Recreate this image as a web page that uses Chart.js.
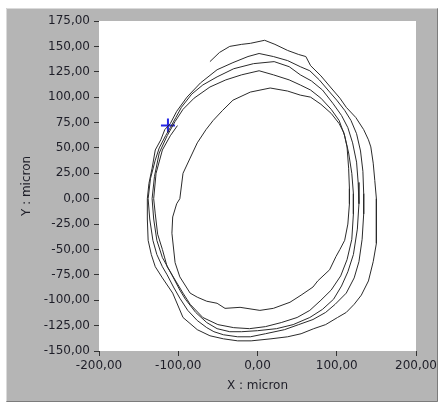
<!DOCTYPE html>
<html>
<head>
<meta charset="utf-8">
<script src="https://cdn.jsdelivr.net/npm/chart.js@4/dist/chart.umd.min.js"></script>
<style>
  html, body { margin: 0; padding: 0; background: #ffffff; }
  #wrap { width: 442px; height: 407px; }
</style>
</head>
<body>
<div id="wrap"><canvas id="xyGraph" width="442" height="407"></canvas></div>
<script>
// outer spiral trace (micron)
const spiralX = [
  // loop 1
  -60, -48, -35, -20, -9, 9, 22, 38, 52, 61, 67, 80, 93, 104, 112, 124, 134, 140, 143, 146, 148, 150, 150, 150, 146, 140, 131, 122, 112, 101, 86, 71, 55, 38, 17, -8, -25, -43, -60, -76, -94, -107, -120, -129, -134, -138, -139, -139, -137, -133, -129, -122, -117, -110,
  // loop 2
  -102, -89, -72, -51, -31, -12, 2, 20, 38, 54, 66, 78, 90, 100, 110, 118, 125, 130, 133, 134, 134, 132, 128, 122, 112, 98, 86, 70, 52, 34, 10, -9, -25, -43, -55, -64, -76, -88, -98, -106, -114, -120, -127, -132, -136, -138, -135, -129, -124, -116, -110, -103,
  // loop 3
  -96, -83, -69, -51, -30, -5, 21, 40, 54, 68, 82, 95, 106, 114, 120, 125, 127, 128, 126, 121, 114, 106, 96, 82, 66, 45, 24, 0, -20, -35, -51, -64, -78, -91, -98, -110, -120, -127, -131, -133, -130, -124, -114, -104,
  // loop 4
  -94, -80, -60, -40, -20, 2, 20, 40, 54, 67, 80, 93, 103, 110, 115, 119, 121, 121, 119, 113, 105, 93, 80, 66, 50, 30, 10, -10, -30, -50, -69, -85, -94, -104, -114, -120, -126, -129, -131, -128, -120, -110, -101
];
const spiralY = [
  135, 144, 150, 152, 153, 156, 152, 146, 142, 140, 131, 121, 109, 99, 90, 80, 68, 58, 51, 35, 18, 0, -20, -44, -62, -81, -95, -104, -112, -117, -124, -128, -133, -136, -138, -140, -140, -138, -135, -129, -117, -93, -78, -67, -55, -41, -20, 0, 15, 30, 48, 58, 68, 74,
  86, 100, 114, 127, 134, 140, 143, 140, 136, 130, 126, 117, 106, 97, 87, 77, 64, 47, 27, 5, -15, -40, -62, -78, -93, -104, -112, -119, -124, -129, -133, -136, -136, -134, -131, -127, -120, -110, -98, -87, -75, -67, -55, -41, -20, 0, 20, 38, 50, 62, 70, 80,
  90, 103, 112, 120, 128, 133, 135, 130, 122, 116, 107, 94, 82, 70, 55, 36, 16, -5, -30, -55, -72, -86, -99, -109, -117, -124, -128, -130, -131, -131, -128, -122, -112, -99, -90, -72, -58, -41, -20, 0, 22, 45, 62, 76,
  88, 99, 110, 117, 122, 126, 122, 117, 112, 107, 99, 88, 77, 62, 45, 25, 5, -15, -40, -60, -76, -90, -100, -110, -117, -122, -126, -128, -127, -124, -117, -104, -93, -80, -67, -50, -35, -15, 0, 25, 48, 62, 72
];

// inner closed loop
const innerX = [-94, -85, -76, -65, -56, -44, -31, -9, 16, 38, 54, 67, 80, 93, 103, 109, 113, 115, 116, 116, 114, 110, 104, 99, 91, 76, 70, 55, 41, 20, 3, -22, -41, -51, -64, -76, -85, -98, -104, -108, -107, -102, -98, -94];
const innerY = [25, 40, 55, 68, 77, 87, 97, 105, 109, 106, 102, 100, 93, 84, 74, 65, 51, 30, 10, -5, -25, -41, -50, -57, -70, -81, -87, -95, -102, -108, -110, -107, -108, -103, -101, -97, -93, -77, -63, -34, -18, -5, 0, 25];

// cursor
const cursorX = [-113];
const cursorY = [72];

const xTicks = [-200, -100, 0, 100, 200];
const yTicks = [-150, -125, -100, -75, -50, -25, 0, 25, 50, 75, 100, 125, 150, 175];

const toPoints = (xs, ys) => xs.map((x, i) => ({ x: x, y: ys[i] }));
const fmt = v => v.toFixed(2).replace('.', ',');

// gray panel behind the plot
const panelPlugin = {
  id: 'panel',
  beforeDraw(chart) {
    const ctx = chart.ctx;
    const a = chart.chartArea;
    ctx.save();
    ctx.fillStyle = '#ffffff';
    ctx.fillRect(0, 0, chart.width, chart.height);
    ctx.fillStyle = '#b5b5b5';
    ctx.fillRect(6, 8, 432, 394);
    ctx.strokeStyle = '#dadada';
    ctx.lineWidth = 1;
    ctx.beginPath();
    ctx.moveTo(6.5, 401.5); ctx.lineTo(6.5, 8.5); ctx.lineTo(437.5, 8.5);
    ctx.stroke();
    ctx.strokeStyle = '#7c7c7c';
    ctx.beginPath();
    ctx.moveTo(437.5, 8.5); ctx.lineTo(437.5, 401.5); ctx.lineTo(6.5, 401.5);
    ctx.stroke();
    ctx.fillStyle = '#ffffff';
    ctx.fillRect(a.left, a.top, a.right - a.left, a.bottom - a.top);
    ctx.restore();
  }
};

const axisFont = { family: 'DejaVu Sans', size: 12 };

new Chart(document.getElementById('xyGraph'), {
  type: 'scatter',
  data: {
    datasets: [
      {
        data: toPoints(spiralX, spiralY),
        showLine: true,
        borderColor: '#2b2b2b',
        borderWidth: 1,
        pointRadius: 0,
        tension: 0
      },
      {
        data: toPoints(innerX, innerY),
        showLine: true,
        borderColor: '#2b2b2b',
        borderWidth: 1,
        pointRadius: 0,
        tension: 0
      },
      {
        data: toPoints(cursorX, cursorY),
        showLine: false,
        pointStyle: 'cross',
        pointRadius: 7,
        borderColor: '#2626e6',
        borderWidth: 2
      }
    ]
  },
  options: {
    responsive: false,
    animation: false,
    layout: { padding: { left: 6, top: 21, right: 26, bottom: 5 } },
    plugins: {
      legend: { display: false },
      tooltip: { enabled: false }
    },
    scales: {
      x: {
        type: 'linear',
        min: -200,
        max: 200,
        afterFit(scale) { scale.height = 51; },
        afterBuildTicks(scale) { scale.ticks = xTicks.map(v => ({ value: v })); },
        grid: { drawOnChartArea: false, drawTicks: true, tickLength: 5, color: '#333333' },
        border: { display: false },
        ticks: { color: '#1e1e28', font: axisFont, padding: 3, maxRotation: 0, callback: v => fmt(v) },
        title: { display: true, text: 'X : micron', color: '#1e1e28', font: axisFont, padding: { top: 0, bottom: 9 } }
      },
      y: {
        type: 'linear',
        min: -150,
        max: 175,
        afterFit(scale) { scale.width = 93; },
        afterBuildTicks(scale) { scale.ticks = yTicks.map(v => ({ value: v })); },
        grid: { drawOnChartArea: false, drawTicks: true, tickLength: 5, color: '#333333' },
        border: { display: false },
        ticks: { color: '#1e1e28', font: axisFont, padding: 4, callback: v => fmt(v) },
        title: { display: true, text: 'Y : micron', color: '#1e1e28', font: axisFont, padding: { top: 14, bottom: 0 } }
      }
    }
  },
  plugins: [panelPlugin]
});
</script>
</body>
</html>
